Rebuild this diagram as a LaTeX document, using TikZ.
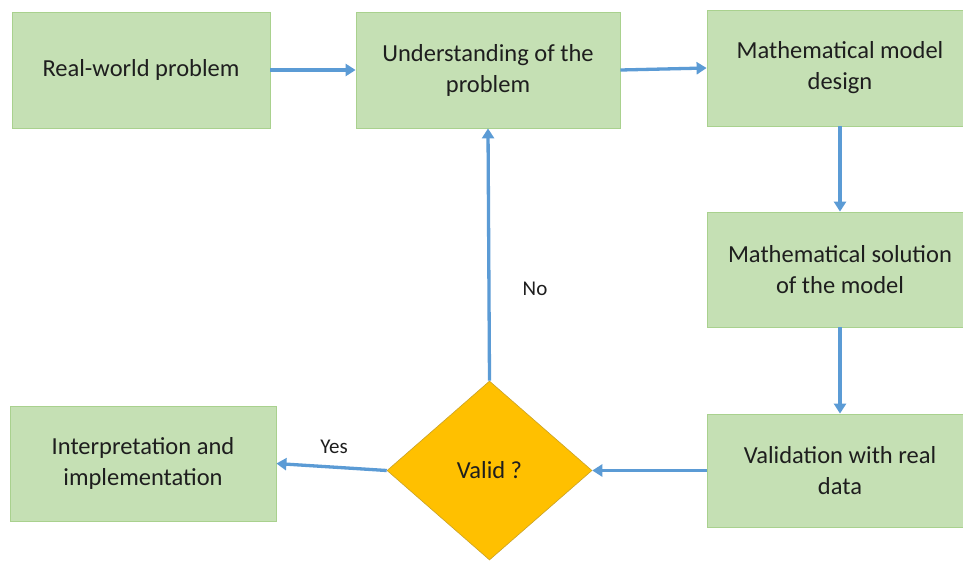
\documentclass[tikz,border=0pt]{standalone}
\usepackage{fontspec}
\setmainfont{Carlito}
\usetikzlibrary{arrows.meta,shapes.geometric}
\definecolor{boxfill}{HTML}{C5E0B4}
\definecolor{boxline}{HTML}{A9D18E}
\definecolor{dfill}{HTML}{FFC000}
\definecolor{dline}{HTML}{C9A227}
\definecolor{arrowc}{HTML}{5B9BD5}
\definecolor{txt}{HTML}{1E1E1E}
\tikzset{
  stepbox/.style={rectangle, draw=boxline, line width=0.8pt, fill=boxfill, align=center,
    inner sep=0pt, text=txt, font=\fontsize{24.5}{31}\selectfont},
  decision/.style={diamond, draw=dline, line width=0.6pt, fill=dfill, inner sep=0pt,
    minimum width=205pt, minimum height=179pt, aspect=1.145, text=txt,
    font=\fontsize{24.5}{31}\selectfont},
  flow/.style={draw=arrowc, line width=3.3pt, -{Triangle[length=10pt,width=12pt]}},
  lbl/.style={text=txt, font=\fontsize{21}{24}\selectfont}
}
\begin{document}
\begin{tikzpicture}[x=1pt,y=-1pt]
\useasboundingbox (0,0) rectangle (963,563);
\clip (0,0) rectangle (963,563);
\fill[white] (0,0) rectangle (963,563);
\node[stepbox, minimum width=258pt, minimum height=116pt] (A) at (141,70) {Real-world problem};
\node[stepbox, minimum width=264pt, minimum height=116pt] (B) at (488,70) {Understanding of the\\problem};
\node[stepbox, minimum width=266pt, minimum height=116pt] (C) at (840,68) {Mathematical model\\design};
\node[stepbox, minimum width=266pt, minimum height=115pt] (D) at (840,269.5) {Mathematical solution\\of the model};
\node[stepbox, minimum width=266pt, minimum height=113pt] (E) at (840,470.5) {Validation with real\\data};
\node[stepbox, minimum width=266pt, minimum height=115pt] (F) at (143,463.5) {Interpretation and\\implementation};
\node[decision] (V) at (489.5,470.5) {Valid ?};
\draw[flow] (A.east) -- (B.west);
\draw[flow] (B.east) -- (C.west);
\draw[flow] (C.south) -- (D.north);
\draw[flow] (D.south) -- (E.north);
\draw[flow] (E.west) -- (V.east);
\draw[flow] (V.west) -- (F.east);
\draw[flow] (V.north) -- (B.south);
\node[lbl] (no) at (535,289) {No};
\node[lbl] (yes) at (334,447) {Yes};
\end{tikzpicture}
\end{document}
